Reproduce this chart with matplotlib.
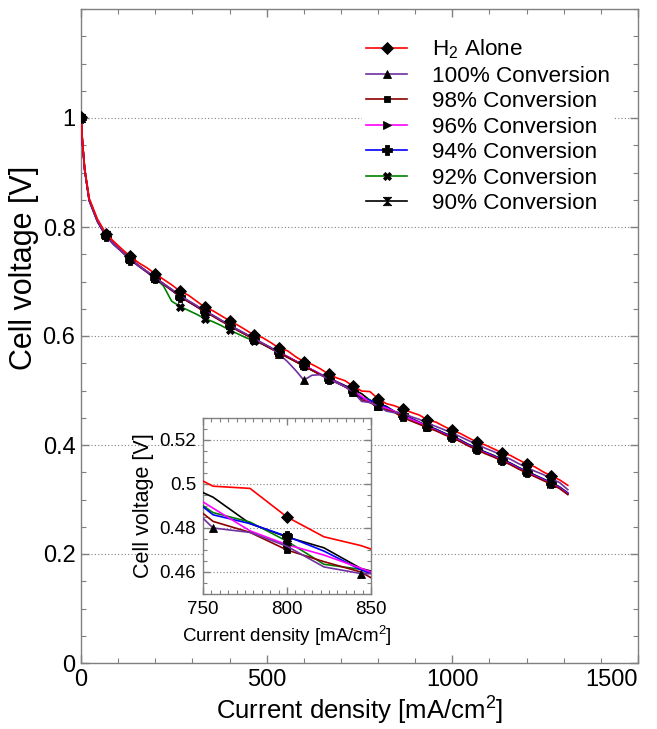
import matplotlib
matplotlib.use('Agg')
import matplotlib.pyplot as plt
from matplotlib.ticker import MultipleLocator, FuncFormatter, FixedLocator

plt.rcParams['font.family'] = ['Liberation Sans', 'DejaVu Sans']
plt.rcParams['mathtext.fontset'] = 'custom'
plt.rcParams['mathtext.rm'] = 'Liberation Sans'
plt.rcParams['mathtext.it'] = 'Liberation Sans'

# ---------------- data ----------------
current = [0, 4, 10, 22, 44, 67, 89, 111, 133, 156, 178, 200, 222, 244, 267, 289, 311, 333,
           356, 378, 400, 422, 444, 467, 489, 511, 533, 556, 578, 600, 622, 644, 667, 689,
           711, 733, 756, 778, 800, 822, 844, 867, 889, 911, 933, 956, 978, 1000, 1022, 1044,
           1067, 1089, 1111, 1133, 1156, 1178, 1200, 1222, 1244, 1267, 1289, 1311]

v_h2 = [1.002, 0.957, 0.908, 0.853, 0.815, 0.788, 0.773, 0.759, 0.746, 0.734, 0.725, 0.714,
        0.704, 0.694, 0.682, 0.675, 0.664, 0.653, 0.646, 0.637, 0.628, 0.620, 0.611, 0.601,
        0.597, 0.588, 0.578, 0.573, 0.562, 0.553, 0.548, 0.540, 0.530, 0.523, 0.518, 0.508,
        0.499, 0.498, 0.485, 0.476, 0.472, 0.466, 0.460, 0.455, 0.446, 0.442, 0.434, 0.427,
        0.421, 0.413, 0.405, 0.400, 0.393, 0.386, 0.381, 0.373, 0.365, 0.360, 0.351, 0.343,
        0.336, 0.326]

v_100 = [1.000, 0.955, 0.905, 0.850, 0.812, 0.785, 0.768, 0.754, 0.741, 0.728, 0.718, 0.707,
         0.696, 0.686, 0.674, 0.665, 0.656, 0.646, 0.638, 0.629, 0.620, 0.612, 0.604, 0.595,
         0.587, 0.579, 0.567, 0.553, 0.537, 0.519, 0.528, 0.529, 0.521, 0.514, 0.507, 0.497,
         0.480, 0.478, 0.4717, 0.4623, 0.4593, 0.459, 0.452, 0.447, 0.440, 0.434, 0.428, 0.422,
         0.415, 0.408, 0.401, 0.394, 0.388, 0.381, 0.374, 0.366, 0.359, 0.352, 0.346, 0.338,
         0.331, 0.318]

v_98 = [1.000, 0.954, 0.904, 0.849, 0.811, 0.784, 0.768, 0.754, 0.740, 0.728, 0.717, 0.706,
        0.695, 0.684, 0.672, 0.663, 0.654, 0.644, 0.636, 0.627, 0.619, 0.610, 0.602, 0.593,
        0.585, 0.577, 0.569, 0.561, 0.553, 0.545, 0.537, 0.529, 0.521, 0.514, 0.507, 0.497,
        0.483, 0.478, 0.470, 0.4647, 0.460, 0.450, 0.444, 0.438, 0.432, 0.426, 0.419, 0.413,
        0.406, 0.398, 0.391, 0.384, 0.378, 0.371, 0.364, 0.356, 0.349, 0.342, 0.335, 0.328,
        0.320, 0.309]

v_96 = [1.000, 0.955, 0.905, 0.850, 0.812, 0.785, 0.769, 0.755, 0.741, 0.729, 0.718, 0.707,
        0.696, 0.685, 0.673, 0.664, 0.655, 0.645, 0.637, 0.628, 0.620, 0.611, 0.603, 0.594,
        0.586, 0.578, 0.570, 0.562, 0.554, 0.546, 0.538, 0.530, 0.522, 0.515, 0.507, 0.500,
        0.489, 0.4787, 0.4724, 0.4677, 0.4617, 0.455, 0.447, 0.441, 0.433, 0.427, 0.420, 0.414,
        0.407, 0.399, 0.392, 0.385, 0.379, 0.372, 0.365, 0.357, 0.350, 0.343, 0.336, 0.329,
        0.321, 0.310]

v_94 = [1.000, 0.954, 0.904, 0.848, 0.810, 0.783, 0.767, 0.754, 0.740, 0.728, 0.717, 0.706,
        0.695, 0.684, 0.672, 0.663, 0.654, 0.645, 0.637, 0.628, 0.620, 0.611, 0.603, 0.594,
        0.586, 0.578, 0.570, 0.562, 0.554, 0.546, 0.538, 0.530, 0.522, 0.515, 0.508, 0.500,
        0.486, 0.482, 0.4762, 0.4695, 0.461, 0.455, 0.448, 0.441, 0.434, 0.428, 0.421, 0.415,
        0.408, 0.400, 0.393, 0.386, 0.380, 0.373, 0.366, 0.358, 0.351, 0.344, 0.337, 0.330,
        0.322, 0.311]

v_92 = [1.000, 0.955, 0.905, 0.850, 0.812, 0.785, 0.769, 0.755, 0.741, 0.729, 0.718, 0.706,
        0.692, 0.664, 0.654, 0.647, 0.640, 0.632, 0.626, 0.619, 0.611, 0.604, 0.597, 0.591,
        0.585, 0.577, 0.569, 0.561, 0.553, 0.545, 0.537, 0.530, 0.522, 0.515, 0.507, 0.499,
        0.487, 0.4827, 0.474, 0.4635, 0.4612, 0.454, 0.447, 0.441, 0.434, 0.428, 0.421, 0.415,
        0.408, 0.400, 0.393, 0.386, 0.380, 0.373, 0.366, 0.358, 0.351, 0.344, 0.337, 0.330,
        0.322, 0.310]

v_90 = [1.000, 0.955, 0.905, 0.850, 0.812, 0.785, 0.769, 0.755, 0.741, 0.729, 0.718, 0.707,
        0.696, 0.685, 0.673, 0.664, 0.655, 0.645, 0.637, 0.628, 0.620, 0.611, 0.603, 0.594,
        0.586, 0.578, 0.570, 0.562, 0.554, 0.546, 0.538, 0.530, 0.523, 0.516, 0.509, 0.502,
        0.494, 0.482, 0.4759, 0.471, 0.4616, 0.457, 0.449, 0.442, 0.435, 0.429, 0.422, 0.416,
        0.409, 0.401, 0.394, 0.387, 0.381, 0.374, 0.367, 0.359, 0.352, 0.345, 0.338, 0.331,
        0.323, 0.312]

labels = ['H$_2$ Alone', '100% Conversion', '98% Conversion', '96% Conversion',
          '94% Conversion', '92% Conversion', '90% Conversion']

# ---------------- styles ----------------
bowtie = [(-1, 1), (1, 1), (-1, -1), (1, -1), (-1, 1)]
regular_marks = [0] + [2 + 3 * m for m in range(1, 20)]
purple_inset_marks = [0] + [2 + 3 * m for m in range(1, 11)] + [36, 40, 44, 47, 50, 53, 56, 59]

series = [
    (v_h2, '#FF0000', 'D', 6),
    (v_100, '#7030A0', '^', 6),
    (v_98, '#8B0000', 's', 4.5),
    (v_96, '#FF00FF', '>', 6),
    (v_94, '#0000FF', 'P', 7),
    (v_92, '#008000', 'X', 6),
    (v_90, '#000000', bowtie, 6),
]

grey = '#808080'
W, H = 657, 729

fig = plt.figure(figsize=(W / 100, H / 100), dpi=100)
ax = fig.add_axes([81 / W, 1 - 663 / H, 557 / W, 654 / H])


def draw(axis, inset=False, lw=1.2):
    hd = {}
    for i in list(range(len(series)))[::-1]:
        vals, col, mk, ms = series[i]
        me = purple_inset_marks if (inset and i == 1) else regular_marks
        ln, = axis.plot(current, vals, color=col, lw=lw, marker=mk, markersize=ms,
                        markerfacecolor='black', markeredgecolor='black', markeredgewidth=0.6,
                        markevery=me, label=labels[i], zorder=3)
        hd[i] = ln
    return [hd[i] for i in range(len(series))]


def style(axis, major_len, minor_len):
    for s in axis.spines.values():
        s.set_color(grey)
        s.set_linewidth(1.0)
    axis.tick_params(which='both', direction='in', top=True, right=True, color=grey)
    axis.tick_params(which='major', length=major_len, width=1.0)
    axis.tick_params(which='minor', length=minor_len, width=0.8)


fmt = FuncFormatter(lambda v, p: '%g' % round(v, 3))

handles = draw(ax)
ax.set_xlim(0, 1500)
ax.set_ylim(0, 1.2)
ax.xaxis.set_major_locator(FixedLocator([0, 500, 1000, 1500]))
ax.xaxis.set_minor_locator(MultipleLocator(100))
ax.yaxis.set_major_locator(FixedLocator([0, 0.2, 0.4, 0.6, 0.8, 1.0]))
ax.yaxis.set_minor_locator(MultipleLocator(0.05))
ax.yaxis.set_major_formatter(fmt)
ax.grid(axis='y', which='major', linestyle=(0, (1, 2)), color=grey, linewidth=0.8)
style(ax, 6, 3.5)
ax.tick_params(labelsize=17, pad=4)
ax.set_xlabel('Current density [mA/cm$^2$]', fontsize=18.5, labelpad=3)
ax.set_ylabel('Cell voltage [V]', fontsize=22)
ax.yaxis.set_label_coords(-0.075, 0.604)
fig.canvas.draw()
xt = ax.get_xticklabels()
xt[-1].set_horizontalalignment('right')

leg = ax.legend(handles=handles, loc='upper right', bbox_to_anchor=(614 / W, 1 - 33 / H),
                bbox_transform=fig.transFigure, borderaxespad=0,
                fontsize=16.2, frameon=True, fancybox=False, framealpha=1,
                handlelength=1.8, handletextpad=1.1, labelspacing=0.2, borderpad=0.2)
leg.get_frame().set_edgecolor('none')
leg.get_frame().set_facecolor('white')
leg.set_zorder(5)

# ---------------- inset ----------------
ins = fig.add_axes([203 / W, 1 - 594 / H, 168 / W, 176 / H])
ins.set_facecolor('white')
ins.set_zorder(6)
draw(ins, inset=True, lw=1.2)
ins.set_xlim(750, 850)
ins.set_ylim(0.45, 0.53)
ins.xaxis.set_major_locator(FixedLocator([750, 800, 850]))
ins.xaxis.set_minor_locator(MultipleLocator(5))
ins.yaxis.set_major_locator(FixedLocator([0.46, 0.48, 0.50, 0.52]))
ins.yaxis.set_minor_locator(MultipleLocator(0.005))
ins.yaxis.set_major_formatter(fmt)
ins.grid(axis='y', which='major', linestyle=(0, (1, 2)), color=grey, linewidth=0.8)
style(ins, 5, 3)
ins.tick_params(labelsize=13.5, pad=5)
ins.set_xlabel('Current density [mA/cm$^2$]', fontsize=13.5, labelpad=4)
ins.set_ylabel('Cell voltage [V]', fontsize=15.5, labelpad=4)

fig.savefig('out.png', dpi=100)
